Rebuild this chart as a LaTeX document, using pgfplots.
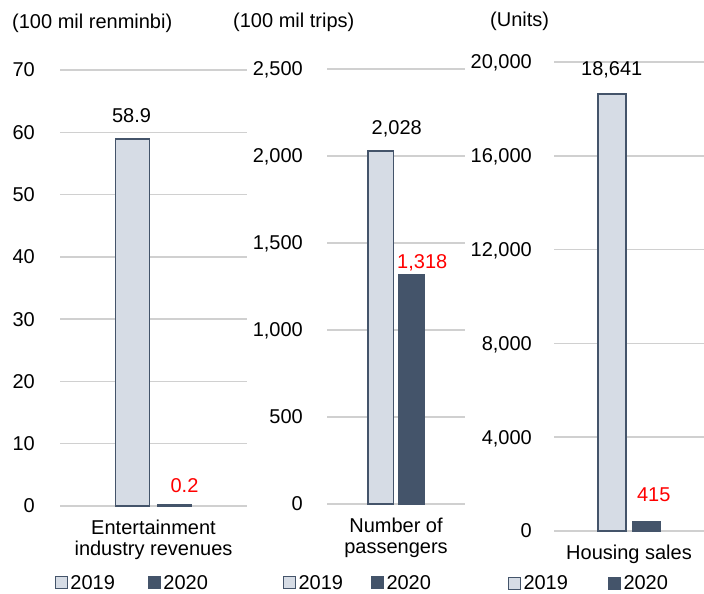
\documentclass[border=0pt]{standalone}
\usepackage{fontspec}
\setmainfont{Liberation Sans}
\usepackage{pgfplots}
\pgfplotsset{compat=1.18}

\definecolor{barlight}{HTML}{D6DCE5}
\definecolor{bardark}{HTML}{44546A}
\definecolor{gridgray}{HTML}{D0D0D0}
\definecolor{valred}{HTML}{FF0000}
\newcommand\sz{\fontsize{20bp}{21bp}\selectfont}

\pgfplotsset{
  panel/.style={
    scale only axis,
    anchor=south west,
    xmin=-1, xmax=1,
    ymin=0,
    enlargelimits=false,
    axis line style={draw=none},
    major tick length=0pt,
    ymajorgrids,
    major grid style={draw=gridgray, line width=1.5bp},
    xtick={0},
    xticklabel style={font=\sz, align=center, anchor=north, inner sep=0pt, yshift=-14bp},
    yticklabel style={font=\sz, anchor=east, inner sep=0pt, text depth=0pt},
    scaled y ticks=false,
    /pgf/number format/fixed,
    /pgf/number format/1000 sep={,},
    /pgf/number format/assume math mode=true,
    legend columns=2,
    legend style={draw=none, fill=none, inner sep=0pt, outer sep=0pt, anchor=west,
      font=\sz, nodes={inner sep=2.5bp, text depth=0pt}},
    clip=false,
  },
  sqlegend/.style={legend image code/.code={%
    \draw[##1, line width=1bp] (0bp,-6bp) rectangle (12bp,6bp);}},
  y2019/.style={fill=barlight, draw=bardark, line width=1.5bp, sqlegend},
  y2020/.style={fill=bardark, draw=bardark, line width=1.5bp, sqlegend},
  val/.style 2 args={nodes near coords,
    every node near coord/.append style={font=\sz, anchor=center, inner sep=0pt,
      text depth=0pt, xshift=#1, yshift=#2}},
  redval/.style={every node near coord/.append style={text=valred}},
}

\begin{document}
\begin{tikzpicture}[x=1bp, y=1bp]
\useasboundingbox (0,0) rectangle (704,594);

% Units
\node[anchor=base west, inner sep=0pt, font=\sz] at (12,565) {(100 mil renminbi)};
\node[anchor=base west, inner sep=0pt, font=\sz] at (233,566) {(100 mil trips)};
\node[anchor=base west, inner sep=0pt, font=\sz] at (490,567) {(Units)};

% Entertainment industry revenues
\begin{axis}[panel,
  at={(60bp,88bp)}, width=187bp, height=436bp,
  ymax=70, ytick={0,10,...,70},
  yticklabel style={xshift=-25bp},
  ybar=8bp, bar width=34bp,
  xticklabels={{Entertainment\\industry revenues}},
  legend style={at={(-0.027,-0.1766)},
    /tikz/every even column/.append style={column sep=30.5bp}},
]
\addplot[y2019, val={-1bp}{24bp}] coordinates {(0,58.9)};
\addplot[y2020, val={10bp}{19bp}, redval] coordinates {(0,0.2)};
\legend{2019,2020}
\end{axis}

% Number of passengers
\begin{axis}[panel,
  at={(327bp,90bp)}, width=138bp, height=435bp,
  ymax=2500, ytick={0,500,...,2500},
  yticklabel style={xshift=-24bp},
  ybar=5bp, bar width=25.5bp,
  xticklabels={{Number of\\passengers}},
  legend style={at={(-0.3188,-0.1816)},
    /tikz/every even column/.append style={column sep=25.5bp}},
]
\addplot[y2019, val={16bp}{24bp}] coordinates {(0,2028)};
\addplot[y2020, val={11bp}{13bp}, redval] coordinates {(0,1318)};
\legend{2019,2020}
\end{axis}

% Housing sales
\begin{axis}[panel,
  at={(554bp,63bp)}, width=150bp, height=469bp,
  ymax=20000, ytick={0,4000,...,20000},
  yticklabel style={xshift=-22bp},
  ybar=6.5bp, bar width=28bp,
  xticklabels={Housing sales},
  legend style={at={(-0.3067,-0.1109)},
    /tikz/every even column/.append style={column sep=37.5bp}},
]
\addplot[y2019, val={0bp}{25bp}] coordinates {(0,18641)};
\addplot[y2020, val={7.5bp}{27bp}, redval] coordinates {(0,415)};
\legend{2019,2020}
\end{axis}
\end{tikzpicture}
\end{document}
